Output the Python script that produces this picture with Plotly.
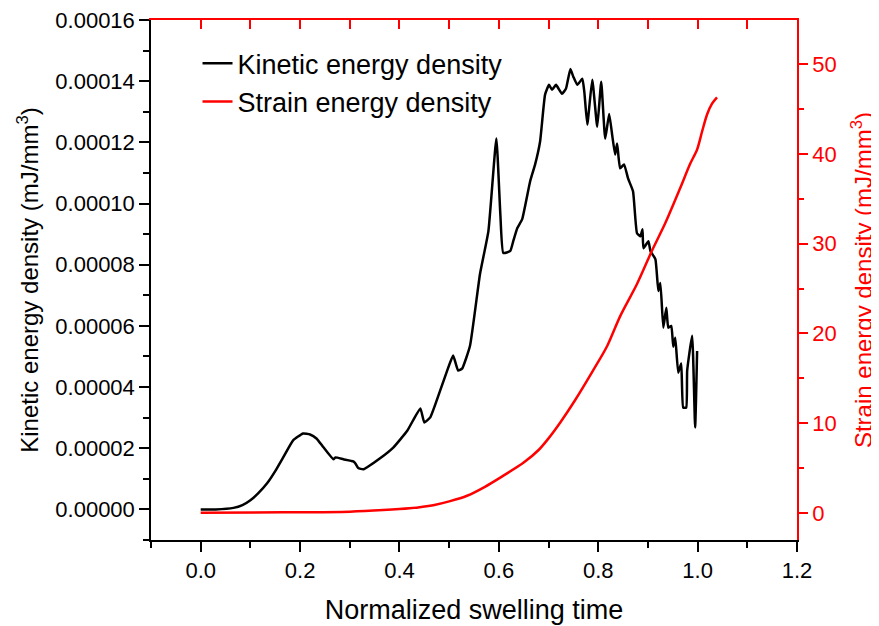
import plotly.graph_objects as go

# Kinetic energy density (left axis)
kin_t = [0.0, 0.03, 0.066, 0.084, 0.10, 0.116, 0.134, 0.15, 0.166, 0.186, 0.206, 0.22, 0.233, 0.247,
         0.267, 0.271, 0.287, 0.307, 0.311, 0.317, 0.327, 0.335, 0.361, 0.388, 0.416, 0.442, 0.450,
         0.462, 0.482, 0.496, 0.508, 0.518, 0.526, 0.542, 0.562, 0.579, 0.595, 0.603, 0.609, 0.623,
         0.629, 0.637, 0.647, 0.663, 0.673, 0.683, 0.693, 0.701, 0.707, 0.715, 0.727, 0.735, 0.744,
         0.750, 0.758, 0.768, 0.772, 0.778, 0.788, 0.798, 0.806, 0.814, 0.822, 0.828, 0.834, 0.838,
         0.844, 0.852, 0.860, 0.870, 0.878, 0.885, 0.889, 0.891, 0.901, 0.905, 0.915, 0.921, 0.925,
         0.931, 0.937, 0.941, 0.947, 0.951, 0.955, 0.961, 0.967, 0.971, 0.977, 0.979, 0.989, 0.995, 0.999]
kin_e = [0.0, 0.0, 0.0000005, 0.0000014, 0.0000030, 0.0000053, 0.0000086, 0.0000125, 0.0000170,
         0.0000226, 0.0000248, 0.0000245, 0.0000232, 0.0000203, 0.0000164, 0.0000170, 0.0000164,
         0.0000157, 0.0000151, 0.0000135, 0.0000131, 0.0000138, 0.0000167, 0.0000203, 0.0000258,
         0.0000330, 0.0000284, 0.0000301, 0.0000389, 0.0000454, 0.0000503, 0.0000454, 0.0000460,
         0.0000535, 0.0000769, 0.0000910, 0.0001213, 0.0000965, 0.0000838, 0.0000845, 0.0000877,
         0.0000919, 0.0000949, 0.0001073, 0.0001128, 0.0001203, 0.0001356, 0.0001388, 0.0001372,
         0.0001388, 0.0001359, 0.0001375, 0.0001440, 0.0001414, 0.0001388, 0.0001408, 0.0001365,
         0.0001258, 0.0001405, 0.0001251, 0.0001398, 0.0001212, 0.0001293, 0.0001225, 0.0001160,
         0.0001196, 0.0001115, 0.0001128, 0.0001082, 0.0001040, 0.0000903, 0.0000893, 0.0000916,
         0.0000854, 0.0000877, 0.0000845, 0.0000818, 0.0000714, 0.0000740, 0.0000594, 0.0000659,
         0.0000594, 0.0000600, 0.0000532, 0.0000561, 0.0000447, 0.0000477, 0.0000333, 0.0000333,
         0.0000454, 0.0000568, 0.0000268, 0.0000518]

# Strain energy density (right axis)
str_t = [0.0, 0.166, 0.30, 0.367, 0.42, 0.468, 0.502, 0.536, 0.572, 0.602, 0.65, 0.68, 0.70, 0.724,
         0.754, 0.79, 0.818, 0.844, 0.878, 0.908, 0.935, 0.965, 0.985, 0.999, 1.009, 1.019, 1.029, 1.039]
str_e = [0.0, 0.05, 0.13, 0.3, 0.5, 0.85, 1.3, 1.9, 2.9, 3.9, 5.6, 7.0, 8.3, 10.1, 12.6, 15.9, 18.6,
         21.9, 25.5, 29.2, 32.3, 36.2, 38.9, 40.5, 42.5, 44.4, 45.6, 46.3]

FONT = "Liberation Sans, Arial, sans-serif"
RED = "#ff0000"

fig = go.Figure()
fig.add_trace(go.Scatter(x=kin_t, y=kin_e, mode="lines", name="Kinetic energy density",
                         line=dict(color="black", width=2.5, shape="spline", smoothing=0.4),
                         xaxis="x", yaxis="y"))
fig.add_trace(go.Scatter(x=str_t, y=str_e, mode="lines", name="Strain energy density",
                         line=dict(color=RED, width=2.5, shape="spline", smoothing=0.8),
                         xaxis="x2", yaxis="y2"))

xr = [-0.1, 1.2]
fig.update_layout(
    width=871, height=618,
    margin=dict(l=143, r=82, t=12, b=86),
    paper_bgcolor="white", plot_bgcolor="white",
    font=dict(family=FONT, size=22, color="black"),
    showlegend=True,
    legend=dict(x=0.072, y=0.963, xanchor="left", yanchor="top",
                bgcolor="rgba(0,0,0,0)", font=dict(size=27), tracegroupgap=0),
    xaxis=dict(range=xr, dtick=0.2, tick0=0, tickformat=".1f", ticks="outside", ticklen=10,
               tickwidth=1.5, tickcolor="black", showline=True, linecolor="black", linewidth=1.5,
               showgrid=False, zeroline=False, automargin=False, ticklabeloverflow="allow",
               minor=dict(dtick=0.1, tick0=0, ticks="outside", ticklen=6, tickwidth=1.5,
                          tickcolor="black", showgrid=False),
               title=dict(text="Normalized swelling time", font=dict(size=27), standoff=18)),
    yaxis=dict(range=[-0.00001, 0.00016], dtick=0.00002, tick0=0, tickformat=".5f",
               ticks="outside", ticklen=10, tickwidth=1.5, tickcolor="black",
               showline=True, linecolor="black", linewidth=1.5, showgrid=False, zeroline=False,
               automargin=False, ticklabeloverflow="allow",
               minor=dict(dtick=0.00001, tick0=0, ticks="outside", ticklen=6, tickwidth=1.5,
                          tickcolor="black", showgrid=False),
               title=dict(text="Kinetic energy density (mJ/mm<sup>3</sup>)", font=dict(size=24),
                          standoff=10)),
    xaxis2=dict(range=xr, overlaying="x", side="top", dtick=0.1, tick0=0, ticks="inside",
                ticklen=9, tickwidth=1.5, tickcolor=RED, showticklabels=False, showline=True,
                linecolor=RED, linewidth=1.5, showgrid=False, zeroline=False, automargin=False),
    yaxis2=dict(range=[-3.03, 54.93], overlaying="y", side="right", dtick=10, tick0=0,
                ticks="outside", ticklen=9, tickwidth=1.5, tickcolor=RED,
                tickfont=dict(color=RED), showline=True, linecolor=RED, linewidth=1.5,
                showgrid=False, zeroline=False, automargin=False, ticklabeloverflow="allow",
                minor=dict(dtick=5, tick0=0, ticks="outside", ticklen=5, tickwidth=1.5,
                           tickcolor=RED, showgrid=False),
                title=dict(text="Strain energy density (mJ/mm<sup>3</sup>)",
                           font=dict(size=24, color=RED), standoff=20)),
)

fig.write_html("out.html")
